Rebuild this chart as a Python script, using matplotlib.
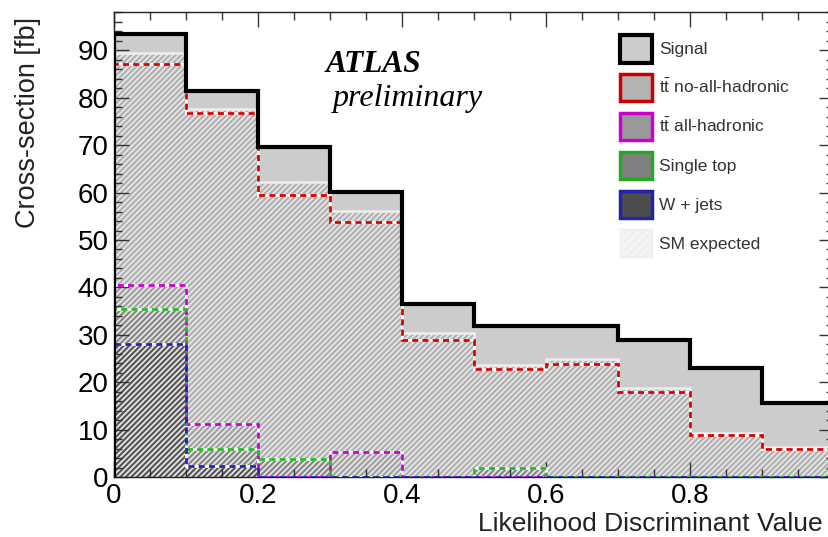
import numpy as np
import matplotlib
matplotlib.use("Agg")
import matplotlib.pyplot as plt
from matplotlib.patches import Patch
from matplotlib.ticker import MultipleLocator

plt.rcParams['font.family'] = ['Liberation Sans', 'DejaVu Sans']
plt.rcParams['mathtext.fontset'] = 'custom'
plt.rcParams['mathtext.rm'] = 'Liberation Sans'
plt.rcParams['hatch.linewidth'] = 1.3

# bin edges of the likelihood discriminant
edges = [0.0, 0.1, 0.2, 0.3, 0.4, 0.5, 0.6, 0.7, 0.8, 0.9, 1.0]

# cross-sections [fb]
signal = [93.5, 81.5, 69.7, 60.1, 36.4, 31.9, 31.9, 28.8, 22.9, 15.7]
sm_expected = [89.5, 77.6, 62.2, 56.2, 30.4, 23.6, 24.8, 18.7, 9.2, 6.3]
tt_nohad = [87.1, 76.7, 59.5, 53.9, 29.0, 22.8, 23.8, 17.9, 8.9, 5.9]
tt_allhad = [40.5, 11.2, 0.0, 5.2, 0.0, 0.0, 0.0, 0.0, 0.0, 0.0]
single_top = [35.4, 6.0, 3.7, 0.0, 0.0, 2.0, 0.0, 0.0, 0.0, 0.0]
wjets = [28.0, 2.4, 0.0, 0.0, 0.0, 0.0, 0.0, 0.0, 0.0, 0.0]

labels = ['Signal', r'$\mathrm{t\bar{t}}$ no-all-hadronic', r'$\mathrm{t\bar{t}}$ all-hadronic',
          'Single top', 'W + jets', 'SM expected']

fig = plt.figure(figsize=(8.29, 5.37), dpi=100)
ax = fig.add_axes([114 / 829, 1 - 477 / 537, 720 / 829, 465 / 537])

# filled areas
ax.stairs(signal, edges, fill=True, facecolor='#cccccc', edgecolor='none', zorder=1)
ax.stairs(sm_expected, edges, fill=True, facecolor='#b0b0b0', edgecolor='none', zorder=1.1)
ax.stairs(tt_allhad, edges, fill=True, facecolor='#a0a0a0', edgecolor='none', zorder=1.2)
ax.stairs(single_top, edges, fill=True, facecolor='#858585', edgecolor='none', zorder=1.3)
ax.stairs(wjets, edges, fill=True, facecolor='#555555', edgecolor='none', zorder=1.4)
# white hatch over the SM expectation
ax.stairs(sm_expected, edges, fill=True, facecolor='none', edgecolor='#e6e6e6',
          hatch='//////', linewidth=0, zorder=1.5)

# outlines
ax.stairs(sm_expected, edges, color='#eeeeee', lw=1.8, zorder=3)
for vals, col in [(tt_nohad, '#dd0000'), (tt_allhad, '#cc00cc'),
                  (single_top, '#22bb22'), (wjets, '#2222bb')]:
    ax.stairs(vals, edges, color='white', lw=2.0, zorder=3.1)
    ax.stairs(vals, edges, color=col, lw=2.0, linestyle=(0, (2.2, 1.5)), zorder=3.2)
ax.stairs(signal, edges, color='black', lw=3.0, zorder=4)

ax.set_xlim(0, 1)
ax.set_ylim(0, 98.1)
ax.xaxis.set_major_locator(MultipleLocator(0.2))
ax.xaxis.set_minor_locator(MultipleLocator(0.05))
ax.yaxis.set_major_locator(MultipleLocator(10))
ax.yaxis.set_minor_locator(MultipleLocator(2))
ax.tick_params(which='both', direction='in', top=True, right=True, labelsize=20, width=1.0,
               color='#333333', pad=4)
ax.tick_params(which='major', length=11)
ax.tick_params(which='minor', length=5.5)
ax.set_xticks([0, 0.2, 0.4, 0.6, 0.8])
ax.set_xticklabels(['0', '0.2', '0.4', '0.6', '0.8'])
for s in ax.spines.values():
    s.set_linewidth(1.0)
    s.set_color('#222222')

fig.text(478 / 829, 6 / 537, 'Likelihood Discriminant Value', fontsize=19,
         ha='left', va='baseline', color='#222222')
fig.text(28 / 829, 1 - 17 / 537, 'Cross-section [fb]', fontsize=19.5, rotation=90,
         ha='center', va='top', color='#222222')

ax.text(0.294, 0.871, 'ATLAS', transform=ax.transAxes, fontsize=22.5, family='Liberation Serif',
        fontweight='bold', fontstyle='italic', ha='left', va='baseline')
ax.text(0.304, 0.798, 'preliminary', transform=ax.transAxes, fontsize=23, family='Liberation Serif',
        fontstyle='italic', ha='left', va='baseline')

handles = [
    Patch(facecolor='#cccccc', edgecolor='black', linewidth=3),
    Patch(facecolor='#b3b3b3', edgecolor='#cc0000', linewidth=2.5),
    Patch(facecolor='#999999', edgecolor='#cc00cc', linewidth=2.5),
    Patch(facecolor='#808080', edgecolor='#22aa22', linewidth=2.5),
    Patch(facecolor='#4d4d4d', edgecolor='#2222aa', linewidth=2.5),
    Patch(facecolor='#f4f4f4', edgecolor='#eeeeee', linewidth=1, hatch='////'),
]
leg = ax.legend(handles, labels, loc='upper left', bbox_to_anchor=(0.703, 0.95), frameon=False,
                fontsize=12.5, handlelength=1.85, handleheight=2.05, labelspacing=0.66,
                handletextpad=0.4, borderpad=0, borderaxespad=0)
for t in leg.get_texts():
    t.set_color('#333333')

fig.savefig('out.png', dpi=100)
